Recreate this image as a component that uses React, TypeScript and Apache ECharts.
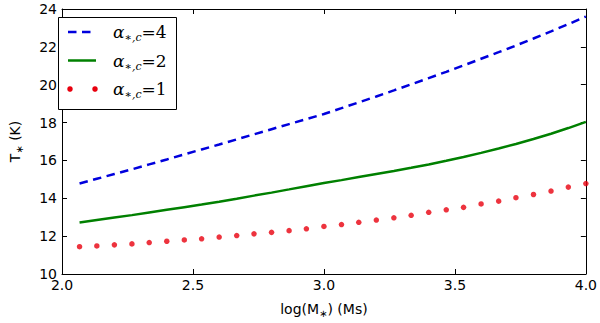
import React, { useEffect, useRef } from "react";
import * as echarts from "echarts";

// log(M*) values (x)
const xValues = [
  2.067, 2.133, 2.2, 2.267, 2.333, 2.4, 2.467, 2.533, 2.6, 2.667,
  2.733, 2.8, 2.867, 2.933, 3.0, 3.067, 3.133, 3.2, 3.267, 3.333,
  3.4, 3.467, 3.533, 3.6, 3.667, 3.733, 3.8, 3.867, 3.933, 4.0,
];

// T* (K) for alpha*,c = 4 (dashed blue)
const alpha4 = [
  14.78, 15.03, 15.28, 15.53, 15.79, 16.05, 16.32, 16.58, 16.84, 17.11,
  17.38, 17.65, 17.92, 18.18, 18.45, 18.76, 19.07, 19.38, 19.7, 20.02,
  20.35, 20.68, 21.02, 21.37, 21.72, 22.07, 22.44, 22.82, 23.2, 23.6,
];

// T* (K) for alpha*,c = 2 (solid green)
const alpha2 = [
  12.72, 12.85, 12.98, 13.11, 13.25, 13.39, 13.53, 13.67, 13.82, 13.98,
  14.14, 14.3, 14.47, 14.64, 14.81, 14.96, 15.12, 15.28, 15.44, 15.61,
  15.79, 15.98, 16.18, 16.4, 16.63, 16.87, 17.13, 17.41, 17.71, 18.04,
];

// T* (K) for alpha*,c = 1 (red dots)
const alpha1 = [
  11.44, 11.48, 11.54, 11.59, 11.66, 11.73, 11.8, 11.86, 11.95, 12.03,
  12.12, 12.2, 12.29, 12.39, 12.51, 12.61, 12.73, 12.85, 12.97, 13.1,
  13.26, 13.39, 13.52, 13.7, 13.85, 14.03, 14.2, 14.38, 14.59, 14.78,
];

const alphaLabels = ["4", "2", "1"];
const xTickLabels = ["2.0", "2.5", "3.0", "3.5", "4.0"];
const yTickLabels = ["10", "12", "14", "16", "18", "20", "22", "24"];

const BLUE = "#0000dd";
const GREEN = "#008000";
const RED = "#e8000e";

export default function App() {
  const ref = useRef<HTMLDivElement>(null);

  useEffect(() => {
    document.body.style.margin = "0";
    if (!ref.current) return;
    const chart = echarts.init(ref.current, undefined, { renderer: "svg" });

    const pairs = (ys: number[]) => xValues.map((x, i) => [x, ys[i]]);
    const xMin = parseFloat(xTickLabels[0]);
    const xMax = parseFloat(xTickLabels[xTickLabels.length - 1]);
    const xInt = parseFloat(xTickLabels[1]) - xMin;
    const yMin = parseFloat(yTickLabels[0]);
    const yMax = parseFloat(yTickLabels[yTickLabels.length - 1]);
    const yInt = parseFloat(yTickLabels[1]) - yMin;

    const tickFont = { color: "#000", fontSize: 14, fontFamily: "DejaVu Sans" };
    const lineCommon = {
      show: true,
      onZero: false,
      lineStyle: { color: "#000", width: 1 },
    };
    const tickCommon = {
      show: true,
      inside: true,
      length: 5,
      lineStyle: { color: "#000", width: 1 },
    };

    const legendY = [32, 60.5, 89];
    const legendText = (label: string, y: number) => ({
      type: "text",
      x: 113,
      y,
      z: 102,
      style: {
        text: `{a|α}{s|∗,c}{e|=${label}}`,
        verticalAlign: "middle",
        align: "left",
        rich: {
          a: {
            fontFamily: "DejaVu Serif",
            fontStyle: "italic",
            fontSize: 17,
            lineHeight: 22,
            fill: "#000",
          },
          s: {
            fontFamily: "DejaVu Serif",
            fontStyle: "italic",
            fontSize: 11,
            lineHeight: 8,
            verticalAlign: "bottom",
            fill: "#000",
          },
          e: {
            fontFamily: "DejaVu Serif",
            fontSize: 17,
            lineHeight: 22,
            fill: "#000",
          },
        },
      },
    });

    const titleRich = {
      n: { fontFamily: "DejaVu Sans", fontSize: 14, lineHeight: 18, color: "#000" },
      s: {
        fontFamily: "DejaVu Sans",
        fontSize: 10,
        lineHeight: 8,
        verticalAlign: "bottom",
        color: "#000",
      },
    };

    const option: any = {
      animation: false,
      backgroundColor: "#ffffff",
      grid: { left: 50, right: 13, top: 9, bottom: 37, containLabel: false },
      xAxis: [
        {
          type: "value",
          min: xMin,
          max: xMax,
          interval: xInt,
          position: "bottom",
          axisLine: lineCommon,
          axisTick: tickCommon,
          splitLine: { show: false },
          axisLabel: {
            ...tickFont,
            margin: 4,
            formatter: (v: number) => v.toFixed(1),
          },
          name: "{n|log(M}{s|∗}{n|) (Ms)}",
          nameLocation: "middle",
          nameGap: 26,
          nameTextStyle: { rich: titleRich },
        },
        {
          type: "value",
          min: xMin,
          max: xMax,
          interval: xInt,
          position: "top",
          axisLine: lineCommon,
          axisTick: tickCommon,
          splitLine: { show: false },
          axisLabel: { show: false },
        },
      ],
      yAxis: [
        {
          type: "value",
          min: yMin,
          max: yMax,
          interval: yInt,
          position: "left",
          axisLine: lineCommon,
          axisTick: tickCommon,
          splitLine: { show: false },
          axisLabel: { ...tickFont, margin: 5 },
          name: "{n|T}{s|∗}{n| (K)}",
          nameLocation: "middle",
          nameGap: 38,
          nameTextStyle: { rich: titleRich },
        },
        {
          type: "value",
          min: yMin,
          max: yMax,
          interval: yInt,
          position: "right",
          axisLine: lineCommon,
          axisTick: tickCommon,
          splitLine: { show: false },
          axisLabel: { show: false },
        },
      ],
      series: [
        {
          name: `α∗,c=${alphaLabels[0]}`,
          type: "line",
          data: pairs(alpha4),
          showSymbol: false,
          symbol: "none",
          lineStyle: { color: BLUE, width: 2.5, type: [8.5, 5.5] },
          itemStyle: { color: BLUE },
          z: 3,
        },
        {
          name: `α∗,c=${alphaLabels[1]}`,
          type: "line",
          data: pairs(alpha2),
          showSymbol: false,
          symbol: "none",
          lineStyle: { color: GREEN, width: 2.5 },
          itemStyle: { color: GREEN },
          z: 3,
        },
        {
          name: `α∗,c=${alphaLabels[2]}`,
          type: "scatter",
          data: pairs(alpha1),
          symbol: "circle",
          symbolSize: 5.5,
          itemStyle: { color: RED },
          z: 3,
        },
      ],
      graphic: [
        {
          type: "rect",
          z: 100,
          shape: { x: 58.5, y: 17.5, width: 118, height: 92 },
          style: { fill: "#ffffff", stroke: "#000000", lineWidth: 1 },
        },
        {
          type: "line",
          z: 101,
          shape: { x1: 68, y1: legendY[0], x2: 96, y2: legendY[0] },
          style: { stroke: BLUE, lineWidth: 2.5, lineDash: [8.5, 5.5] },
        },
        {
          type: "line",
          z: 101,
          shape: { x1: 68, y1: legendY[1], x2: 96, y2: legendY[1] },
          style: { stroke: GREEN, lineWidth: 2.5 },
        },
        {
          type: "circle",
          z: 101,
          shape: { cx: 70, cy: legendY[2], r: 2.75 },
          style: { fill: RED },
        },
        {
          type: "circle",
          z: 101,
          shape: { cx: 95, cy: legendY[2], r: 2.75 },
          style: { fill: RED },
        },
        legendText(alphaLabels[0], legendY[0]),
        legendText(alphaLabels[1], legendY[1]),
        legendText(alphaLabels[2], legendY[2]),
      ],
    };

    chart.setOption(option);
    return () => {
      chart.dispose();
    };
  }, []);

  return (
    <div
      ref={ref}
      style={{ position: "fixed", left: 0, top: 0, width: 600, height: 323, background: "#fff" }}
    />
  );
}
